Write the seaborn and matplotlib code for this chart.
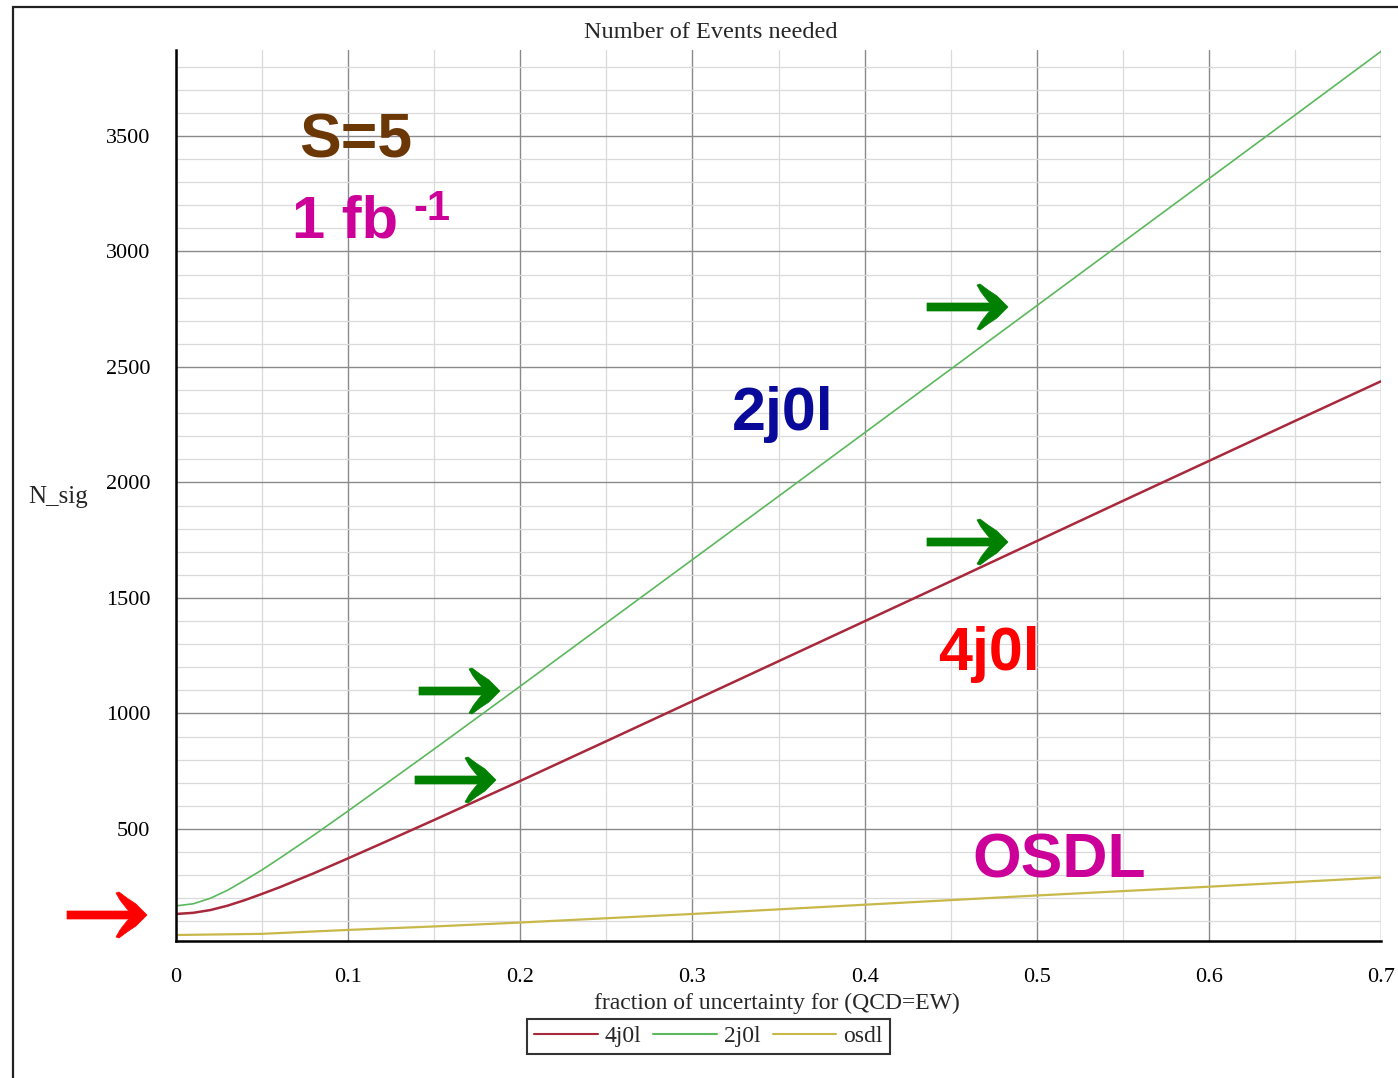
import numpy as np
import pandas as pd
import matplotlib
matplotlib.use("Agg")
import matplotlib.pyplot as plt
import seaborn as sns
from matplotlib.ticker import MultipleLocator, FuncFormatter
from matplotlib.patches import Rectangle, Polygon

# ---------------- data ----------------
x_main = [0.00, 0.01, 0.02, 0.03, 0.04, 0.05, 0.06, 0.08, 0.10, 0.12, 0.15,
          0.20, 0.25, 0.30, 0.35, 0.40, 0.45, 0.50, 0.55, 0.60, 0.65, 0.70]
n_4j0l = [132, 137, 149, 168, 192, 219, 247, 308, 373, 439, 539,
          708, 880, 1053, 1226, 1399, 1572, 1746, 1920, 2093, 2266, 2438]
n_2j0l = [167, 176, 200, 235, 278, 323, 372, 473, 578, 685, 846,
          1118, 1392, 1666, 1940, 2215, 2490, 2765, 3040, 3315, 3590, 3866]
x_osdl = [0.00, 0.05, 0.10, 0.15, 0.20, 0.30, 0.40, 0.50, 0.60, 0.70]
n_osdl = [41, 46, 63, 78, 95, 132, 172, 212, 250, 290]

series_names = ["4j0l", "2j0l", "osdl"]
series_colors = ["#a8283c", "#5cb85c", "#c8b84a"]

title_text = "Number of Events needed"
xlabel_text = "fraction of uncertainty for (QCD=EW)"
ylabel_text = "N_sig"

df = pd.concat([
    pd.DataFrame({"f": x_main, "N": n_4j0l, "series": series_names[0]}),
    pd.DataFrame({"f": x_main, "N": n_2j0l, "series": series_names[1]}),
    pd.DataFrame({"f": x_osdl, "N": n_osdl, "series": series_names[2]}),
], ignore_index=True)

# ---------------- figure ----------------
sns.set_style("white")
plt.rcParams["font.family"] = ["Liberation Serif", "DejaVu Serif"]

W, H = 1398, 1078
fig = plt.figure(figsize=(W / 100, H / 100), dpi=100)
ax = fig.add_axes([176 / W, 1 - 941 / H, (1381 - 176) / W, (941 - 50) / H])

sns.lineplot(data=df, x="f", y="N", hue="series", hue_order=series_names,
             palette=dict(zip(series_names, series_colors)),
             estimator=None, sort=True, ax=ax, linewidth=1.4)
for ln, lw in zip(ax.lines[:3], [1.8, 1.2, 1.6]):
    ln.set_linewidth(lw)

ax.set_xlim(0, 0.7)
ax.set_ylim(15, 3872)
ax.xaxis.set_major_locator(MultipleLocator(0.1))
ax.xaxis.set_minor_locator(MultipleLocator(0.05))
ax.yaxis.set_major_locator(MultipleLocator(500))
ax.yaxis.set_minor_locator(MultipleLocator(100))
ax.xaxis.set_major_formatter(FuncFormatter(lambda v, p: "0" if abs(v) < 1e-9 else f"{v:.1f}"))

ax.grid(which="major", color="#8a8a8a", linewidth=1.0)
ax.grid(which="minor", color="#dadada", linewidth=0.9)
ax.set_axisbelow(True)

for s in ["top", "right"]:
    ax.spines[s].set_visible(False)
for s in ["left", "bottom"]:
    ax.spines[s].set_color("black")
    ax.spines[s].set_linewidth(1.8)

ax.tick_params(which="major", direction="out", length=11.5, width=1.4,
               labelsize=16, colors="black")
ax.tick_params(which="minor", direction="out", length=6, width=1.2, colors="black")
ax.tick_params(axis="y", which="major", pad=7)
ax.tick_params(axis="x", which="major", pad=8)

ax.set_xlabel(xlabel_text, fontsize=17)
ax.xaxis.set_label_coords(0.499, -0.07)
ax.xaxis.label.set_va("center")
ax.set_ylabel(ylabel_text, fontsize=18, rotation=0)
ax.yaxis.set_label_coords(-0.098, 0.498)
ax.yaxis.label.set_va("center")
ax.yaxis.label.set_ha("center")

def fx(x):
    return x / W

def fy(y):
    return 1 - y / H

fig.text(fx(711), fy(33), title_text, ha="center", va="center", fontsize=17.5)

# legend
handles, labels = ax.get_legend_handles_labels()
if ax.get_legend() is not None:
    ax.get_legend().remove()
leg = fig.legend(handles, labels, loc="center", bbox_to_anchor=(fx(708.5), fy(1036.5)),
                 ncol=3, frameon=True, fancybox=False, edgecolor="black", fontsize=17,
                 handlelength=2.7, handletextpad=0.3, columnspacing=0.5,
                 borderpad=0.3, borderaxespad=0)
leg.get_frame().set_linewidth(1.5)
for lh in leg.get_lines():
    lh.set_linewidth(1.5)

# annotations
sans = ["Liberation Sans", "DejaVu Sans"]
fig.text(fx(299), fy(158), "S=5", color="#6b3705", fontsize=45, family=sans,
         weight="bold", ha="left", va="baseline")
fig.text(fx(292), fy(238), "1 fb", color="#cc0099", fontsize=43, family=sans,
         weight="bold", ha="left", va="baseline")
fig.text(fx(413), fy(220), "-1", color="#cc0099", fontsize=30, family=sans,
         weight="bold", ha="left", va="baseline")
fig.text(fx(732), fy(430), "2j0l", color="#0a0a9a", fontsize=44, family=sans,
         weight="bold", ha="left", va="baseline")
fig.text(fx(938), fy(670), "4j0l", color="#ff0000", fontsize=44, family=sans,
         weight="bold", ha="left", va="baseline")
fig.text(fx(972), fy(878), "OSDL", color="#cc0099", fontsize=45, family=sans,
         weight="bold", ha="left", va="baseline")

# swept-back arrow heads (shape relative to the tip, pixels, y downwards)
head_upper = [(0, 0), (-4, -4), (-11, -11), (-20, -17), (-28, -23), (-31, -22),
              (-27, -15), (-24, -11), (-20, -6), (-18, -4)]

def arrow(x0, xtip, y, color):
    lower = [(dx, -dy) for dx, dy in reversed(head_upper[1:])]
    pts = head_upper + [(x0 - xtip, -4), (x0 - xtip, 4)] + lower
    pts = [(fx(xtip + dx), fy(y + dy)) for dx, dy in pts]
    fig.patches.append(Polygon(pts, closed=True, transform=fig.transFigure,
                               facecolor=color, edgecolor=color, linewidth=0.5))

arrow(927, 1008, 307, "#008000")
arrow(927, 1008, 542, "#008000")
arrow(419, 500, 691, "#008000")
arrow(415, 496, 780, "#008000")
arrow(67, 147, 915, "#ff0000")

# outer frame
fig.patches.append(Rectangle((fx(13), -0.05), 1.2, fy(7) + 0.05,
                             transform=fig.transFigure, fill=False,
                             edgecolor="#222222", linewidth=1.6))

fig.savefig("out.png", dpi=100)
